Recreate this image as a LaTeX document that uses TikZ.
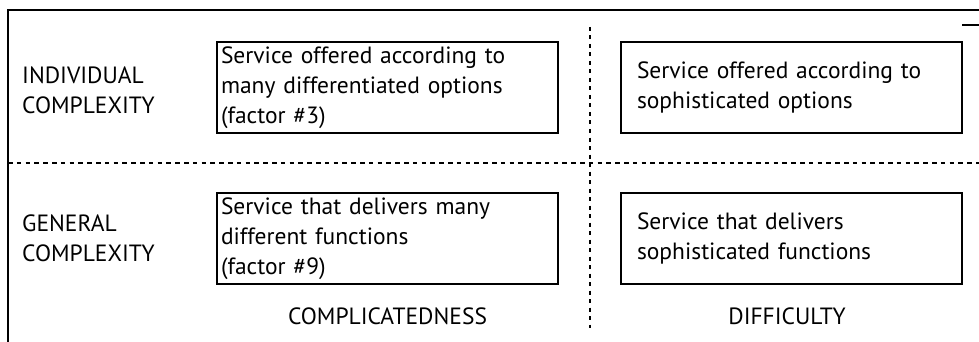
\documentclass[tikz,border=0pt]{standalone}
\usepackage{fontspec}
\setmainfont{PT Sans}
\begin{document}
\begin{tikzpicture}[x=1pt,y=-1pt,
  frame/.style={line width=1.8pt},
  hdash/.style={line width=1.5pt,dash pattern=on 4.5pt off 4.3pt},
  vdash/.style={line width=1.5pt,dash pattern=on 4pt off 4.5pt},
  txt/.style={font=\fontsize{23.5}{30}\selectfont,inner sep=0pt},
  lbl/.style={txt,anchor=west,align=left},
  boxa/.style={draw,line width=1.8pt,txt,minimum width=341pt,minimum height=91pt,
     text width=333pt,inner xsep=4pt,align=left},
  boxb/.style={draw,line width=1.8pt,txt,minimum width=341pt,minimum height=91pt,
     text width=309pt,inner xsep=16pt,align=left}]
\useasboundingbox (0,0) rectangle (979,342);
% frame
\draw[frame] (8,342) -- (8,10) -- (979,10);
\draw[line width=1.4pt] (962,25) -- (979,25);
% dashed grid
\draw[hdash] (8,163) -- (979,163);
\draw[vdash] (590,27) -- (590,328);
% boxes
\node[boxa] (b1) at (387.5,87.5) {Service offered according to\\many differentiated options\\(factor \#3)};
\node[boxb] (b2) at (791.5,87.5) {Service offered according to\\sophisticated options};
\node[boxa] (b3) at (387.5,238.5) {Service that delivers many\\different functions\\(factor \#9)};
\node[boxb] (b4) at (791.5,238.5) {Service that delivers\\sophisticated functions};
% labels
\node[lbl] (l1) at (22,90) {INDIVIDUAL\\COMPLEXITY};
\node[lbl] (l2) at (22,238) {GENERAL\\COMPLEXITY};
\node[txt] (c1) at (387.5,316) {COMPLICATEDNESS};
\node[txt] (c2) at (787,316) {DIFFICULTY};
\end{tikzpicture}
\end{document}
